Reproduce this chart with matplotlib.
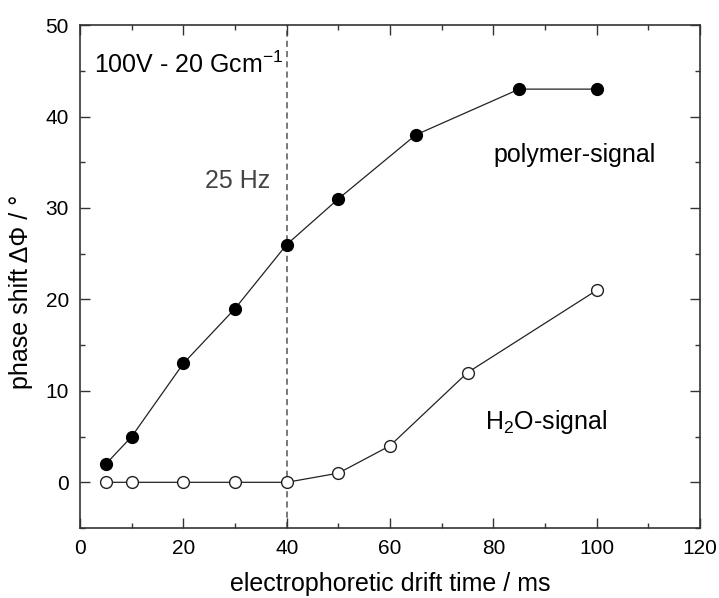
import matplotlib.pyplot as plt
from matplotlib.ticker import MultipleLocator

plt.rcParams['font.family'] = ['Liberation Sans', 'DejaVu Sans']
plt.rcParams['mathtext.fontset'] = 'custom'
plt.rcParams['mathtext.rm'] = 'Liberation Sans'
plt.rcParams['mathtext.it'] = 'Liberation Sans:italic'
plt.rcParams['mathtext.bf'] = 'Liberation Sans:bold'

# drift time in ms and phase shift in degrees
t_polymer = [5, 10, 20, 30, 40, 50, 65, 85, 100]
phi_polymer = [2, 5, 13, 19, 26, 31, 38, 43, 43]
t_water = [5, 10, 20, 30, 40, 50, 60, 75, 100]
phi_water = [0, 0, 0, 0, 0, 1, 4, 12, 21]
t_marker = 40

fig = plt.figure(figsize=(7.19, 5.98), dpi=100)
ax = fig.add_axes([0.1113, 0.117, 0.8623, 0.841])

ax.axvline(t_marker, color='#555555', ls=(0, (4, 2.7)), lw=1.1, zorder=1)

ax.plot(t_polymer, phi_polymer, '-o', color='#222222', lw=0.9,
        ms=8.5, mfc='black', mec='black', zorder=3)
ax.plot(t_water, phi_water, '-o', color='#222222', lw=0.9,
        ms=8.5, mfc='white', mec='#222222', mew=1.0, zorder=3)

ax.set_xlim(0, 120)
ax.set_ylim(-5, 50)
ax.xaxis.set_major_locator(MultipleLocator(20))
ax.xaxis.set_minor_locator(MultipleLocator(10))
ax.yaxis.set_major_locator(MultipleLocator(10))
ax.yaxis.set_minor_locator(MultipleLocator(5))
ax.tick_params(which='both', direction='in', top=True, right=True,
               color='#333333', labelsize=15, pad=8)
ax.tick_params(which='major', length=7, width=1)
ax.tick_params(which='minor', length=3.6, width=1)
for s in ax.spines.values():
    s.set_color('#333333')
    s.set_linewidth(1.2)

ax.set_xlabel('electrophoretic drift time / ms', fontsize=18, labelpad=10)
ax.set_ylabel('phase shift ΔΦ / °', fontsize=18)
ax.yaxis.set_label_coords(-0.076, 0.47)

ax.text(2.8, 44.75, r'100V - 20 Gcm$^{-1}$', fontsize=18, va='baseline')
ax.text(36.8, 32.2, '25 Hz', fontsize=18, color='#444444', va='baseline', ha='right')
ax.text(80, 35.0, 'polymer-signal', fontsize=18, va='baseline')
ax.text(78.4, 5.84, r'H$_2$O-signal', fontsize=18, va='baseline')

fig.savefig('out.png', dpi=100)
